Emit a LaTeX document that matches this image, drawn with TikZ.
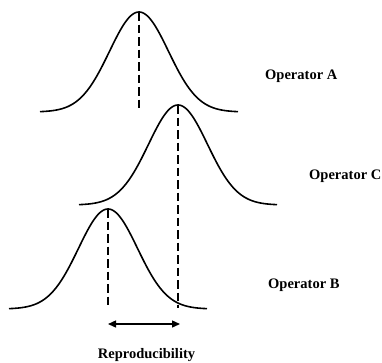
\documentclass[tikz,border=0pt]{standalone}
\usepackage{fontspec}
\setmainfont{Liberation Serif}
\usetikzlibrary{arrows.meta}
\tikzset{
  bell/.style={line width=1.6pt, line join=round},
  meanline/.style={line width=2.6pt, dash pattern=on 8.5pt off 4pt},
  lbl/.style={font=\fontsize{14.5}{17}\selectfont\bfseries, inner sep=0pt},
  span/.style={line width=1.4pt, {Triangle[length=8pt,width=7pt]}-{Triangle[length=8pt,width=7pt]}}
}
\newcommand\bellcurve[2]{% center x, base y
  \draw[bell] plot[domain=-99:99,samples=151,smooth] ({#1+\x},{#2-100*exp(-(\x*\x)/(2*29.5*29.5))});
}
\begin{document}
\begin{tikzpicture}[x=1pt,y=-1pt]
\useasboundingbox (0,0) rectangle (382,362);
% curves
\bellcurve{139}{112}
\bellcurve{178}{205}
\bellcurve{108}{309}
% mean markers
\coordinate (pA) at (139,12);  \coordinate (bA) at (139,111);
\coordinate (pC) at (178,105); \coordinate (bC) at (178,308);
\coordinate (pB) at (108,209); \coordinate (bB) at (108,308);
\draw[meanline] (pA) -- (bA);
\draw[meanline] (pC) -- (bC);
\draw[meanline] (pB) -- (bB);
% reproducibility span
\coordinate (sl) at (108,324);
\coordinate (sr) at (180,324);
\draw[span] (sl) -- (sr);
% labels
\node[lbl, anchor=base west] (opA) at (265,79) {Operator A};
\node[lbl, anchor=base west] (opC) at (309,179) {Operator C};
\node[lbl, anchor=base west] (opB) at (268,288) {Operator B};
\node[lbl, anchor=base] (rep) at (146.5,358) {Reproducibility};
\end{tikzpicture}
\end{document}
